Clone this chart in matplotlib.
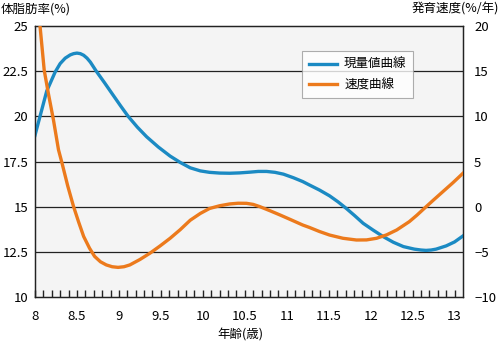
import numpy as np
import matplotlib.pyplot as plt

plt.rcParams['font.family'] = ['Noto Sans CJK JP', 'DejaVu Sans']

# 現量値曲線 (left axis, 体脂肪率 %)
age_blue = [8.0, 8.06, 8.14, 8.24, 8.30, 8.36, 8.42, 8.46, 8.50, 8.54, 8.58, 8.62, 8.66, 8.73,
            8.83, 8.93, 9.02, 9.11, 9.22, 9.33, 9.47, 9.61, 9.73, 9.85, 9.97, 10.08, 10.2,
            10.32, 10.44, 10.56, 10.66, 10.76, 10.86, 10.96, 11.08, 11.19, 11.27, 11.39,
            11.51, 11.61, 11.71, 11.81, 11.91, 12.03, 12.15, 12.27, 12.39, 12.52, 12.60,
            12.66, 12.72, 12.78, 12.90, 13.0, 13.1]
fat_blue = [18.95, 20.0, 21.4, 22.45, 22.92, 23.22, 23.4, 23.47, 23.5, 23.47, 23.38, 23.22, 23.0,
            22.5, 21.85, 21.18, 20.58, 20.0, 19.4, 18.87, 18.3, 17.8, 17.45, 17.15, 16.98,
            16.9, 16.86, 16.85, 16.87, 16.91, 16.95, 16.95, 16.9, 16.8, 16.6, 16.39, 16.2,
            15.92, 15.6, 15.27, 14.9, 14.5, 14.08, 13.7, 13.34, 13.03, 12.79, 12.65, 12.6,
            12.58, 12.6, 12.65, 12.83, 13.05, 13.38]

# 速度曲線 (right axis, 発育速度 %/年)
age_orange = [8.0, 8.06, 8.11, 8.16, 8.22, 8.28, 8.32, 8.39, 8.46, 8.52, 8.58, 8.65, 8.71,
              8.78, 8.85, 8.92, 8.99, 9.06, 9.13, 9.25, 9.37, 9.49, 9.61, 9.73, 9.85,
              9.97, 10.08, 10.2, 10.32, 10.42, 10.52, 10.6, 10.68, 10.8, 10.92, 11.05,
              11.19, 11.27, 11.39, 11.51, 11.67, 11.83, 11.95, 12.07, 12.19, 12.31, 12.46,
              12.55, 12.64, 12.75, 12.86, 12.98, 13.1]
vel_orange = [23.5, 20.0, 15.1, 12.5, 9.6, 6.3, 4.9, 2.3, 0.0, -1.7, -3.3, -4.6, -5.5,
              -6.1, -6.45, -6.65, -6.72, -6.65, -6.45, -5.85, -5.15, -4.35, -3.5, -2.55, -1.5,
              -0.75, -0.2, 0.1, 0.3, 0.38, 0.37, 0.25, 0.0, -0.45, -0.92, -1.45,
              -2.03, -2.3, -2.75, -3.14, -3.5, -3.69, -3.68, -3.5, -3.12, -2.58, -1.66,
              -0.95, -0.18, 0.75, 1.66, 2.65, 3.7]

blue = '#1b8ac3'
orange = '#ec7a1c'

fig = plt.figure(figsize=(5.02, 3.43), dpi=100)
ax = fig.add_axes([0.0697, 0.1341, 0.8526, 0.7901])
ax2 = ax.twinx()

ax.set_facecolor('#f4f4f4')
ax.set_xlim(8, 13.1)
ax.set_ylim(10, 25)
ax2.set_ylim(-10, 20)

for v in [12.5, 15, 17.5, 20, 22.5]:
    ax.axhline(v, color='#222222', lw=0.9, zorder=1)

l1, = ax.plot(age_blue, fat_blue, color=blue, lw=2.4, zorder=3, label='現量値曲線',
              solid_joinstyle='round')
l2, = ax2.plot(age_orange, vel_orange, color=orange, lw=2.4, zorder=3, label='速度曲線',
               solid_joinstyle='round')

ax.set_xticks([8, 8.5, 9, 9.5, 10, 10.5, 11, 11.5, 12, 12.5, 13])
ax.set_xticklabels(['8', '8.5', '9', '9.5', '10', '10.5', '11', '11.5', '12', '12.5', '13'])
ax.set_xticks(np.arange(8.1, 13.05, 0.1), minor=True)
ax.tick_params(axis='x', which='both', direction='in', length=5, width=1.0,
               color='#222222', pad=9, labelsize=9.5)
ax.set_yticks([10, 12.5, 15, 17.5, 20, 22.5, 25])
ax.set_yticklabels(['10', '12.5', '15', '17.5', '20', '22.5', '25'])
ax.tick_params(axis='y', length=0, pad=5, labelsize=9.5)
ax2.set_yticks([-10, -5, 0, 5, 10, 15, 20])
ax2.set_yticklabels(['\u221210', '\u22125', '0', '5', '10', '15', '20'])
ax2.tick_params(axis='y', length=0, pad=8, labelsize=9.5)

for a in (ax, ax2):
    for s in a.spines.values():
        s.set_color('#222222')
        s.set_linewidth(0.9)

fig.text(0.002, 0.975, '体脂肪率(%)', fontsize=9, ha='left', va='center')
fig.text(0.995, 0.975, '発育速度(%/年)', fontsize=9, ha='right', va='center')
fig.text(0.478, 0.022, '年齢(歳)', fontsize=9, ha='center', va='center')

leg = fig.legend(handles=[l1, l2], loc='upper left', bbox_to_anchor=(0.602, 0.85),
                 frameon=True, fancybox=False, fontsize=9, handlelength=2.2,
                 handletextpad=0.6, borderpad=0.55, labelspacing=0.55, borderaxespad=0)
leg.get_frame().set_edgecolor('#999999')
leg.get_frame().set_linewidth(0.8)

fig.savefig('out.png', dpi=100)
